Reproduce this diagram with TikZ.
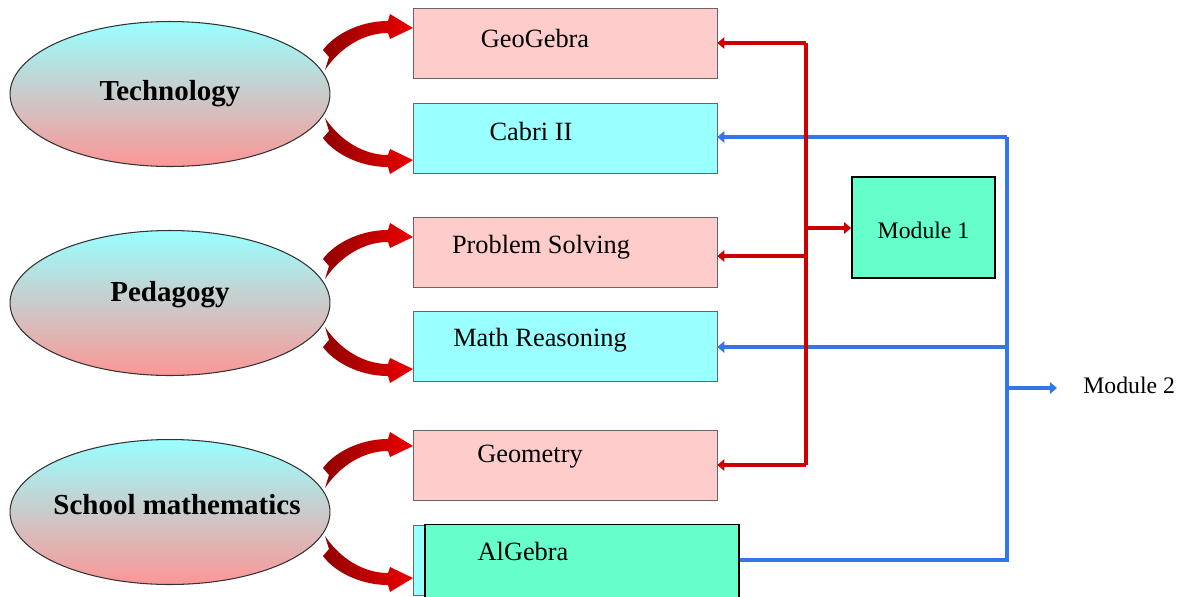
\documentclass[tikz,border=0pt]{standalone}
\usepackage{fontspec}
\setmainfont{Liberation Serif}
\usetikzlibrary{shapes.geometric,arrows.meta}
\definecolor{boxpink}{RGB}{255,204,204}
\definecolor{boxcyan}{RGB}{153,255,255}
\definecolor{topicpink}{RGB}{252,150,150}
\definecolor{modgreen}{RGB}{102,255,204}
\definecolor{linkred}{RGB}{204,0,0}
\definecolor{linkblue}{RGB}{51,119,230}
\definecolor{arrdark}{RGB}{145,0,0}
\definecolor{arrlight}{RGB}{235,0,0}
\begin{document}
\begin{tikzpicture}[x=0.02cm,y=-0.02cm,
		topic/.style={ellipse,draw=black!80,semithick,minimum width=6.4cm,minimum height=2.9cm,
			top color=boxcyan,bottom color=topicpink},
		topictext/.style={font=\bfseries\fontsize{16.5}{20}\selectfont},
		item/.style={rectangle,draw=black!60,thin,minimum width=6.08cm,minimum height=1.4cm},
		module/.style={rectangle,draw=black,line width=1pt,fill=modgreen},
		lbl/.style={font=\fontsize{15}{18}\selectfont},
		modlbl/.style={font=\fontsize{13.5}{16}\selectfont},
		redlink/.style={draw=linkred,line width=2.2pt},
		bluelink/.style={draw=linkblue,line width=2.2pt},
		tip/.style={-{Triangle[length=4pt,width=6.5pt]}}]
		\useasboundingbox (0,0) rectangle (1187,596);
		\clip (0,0) rectangle (1187,596);
		% topics
		\node [topic,label={[topictext,yshift=0.0cm]center:Technology}] (tech) at (170,94) {};
		\node [topic,label={[topictext,yshift=0.16cm]center:Pedagogy}] (peda) at (170,303) {};
		\node [topic,label={[topictext,xshift=0.14cm,yshift=0.14cm]center:School mathematics}] (school) at (170,512) {};
		% curved arrows
		\foreach \ey in {94,303,512} {
			\foreach \fl in {1,-1} {
				\shade [left color=arrdark,right color=arrlight,shift={(170,\ey)},yscale=\fl]
					(153,-44) .. controls (163,-58) and (188,-73) .. (218,-73) -- (220,-80)
					-- (243,-66) -- (220,-55) -- (218,-61)
					.. controls (196,-61) and (172,-49) .. (155,-24) -- (159,-37) -- cycle;
			}
		}
		% items
		\node [item,fill=boxpink,label={[lbl,xshift=-0.6cm,yshift=0.1cm]center:GeoGebra}] (geogebra) at (565,43) {};
		\node [item,fill=boxcyan,label={[lbl,xshift=-0.68cm,yshift=0.14cm]center:Cabri II}] (cabri) at (565,138.5) {};
		\node [item,fill=boxpink,label={[lbl,xshift=-0.48cm,yshift=0.1cm]center:Problem Solving}] (psolve) at (565,252.5) {};
		\node [item,fill=boxcyan,label={[lbl,xshift=-0.5cm,yshift=0.12cm]center:Math Reasoning}] (mreason) at (565,346.5) {};
		\node [item,fill=boxpink,label={[lbl,xshift=-0.7cm,yshift=0.16cm]center:Geometry}] (geometry) at (565,465) {};
		\node [item,fill=boxcyan] (algcyan) at (565,560) {};
		\node [module,minimum width=6.28cm,minimum height=1.5cm,label={[lbl,xshift=-1.18cm,yshift=0.22cm]center:AlGebra}] (algebra) at (582,562) {};
		% modules
		\node [module,minimum width=2.86cm,minimum height=2.02cm,label={[modlbl,yshift=-0.06cm]center:Module 1}] (mod1) at (923.5,227.5) {};
		\node [modlbl,anchor=west,inner sep=0pt] (mod2) at (1083,385) {Module 2};
		% blue links
		\coordinate (btop) at (1007,137);
		\coordinate (bbot) at (1007,560);
		\draw [bluelink] (btop) -- (bbot) -- (algebra.east |- bbot);
		\draw [bluelink,tip] (btop) -- (cabri.east |- btop);
		\draw [bluelink,tip] (1007,347) -- (mreason.east |- 0,347);
		\draw [bluelink,tip] (1007,388) -- (1057,388);
		% red links
		\coordinate (rtop) at (806,43);
		\coordinate (rbot) at (806,465);
		\draw [redlink] (rtop) -- (rbot);
		\draw [redlink,tip] (rtop) -- (geogebra.east);
		\draw [redlink,tip] (806,256) -- (psolve.east |- 0,256);
		\draw [redlink,tip] (rbot) -- (geometry.east);
		\draw [redlink,tip] (806,228) -- (mod1.west |- 0,228);
\end{tikzpicture}
\end{document}
